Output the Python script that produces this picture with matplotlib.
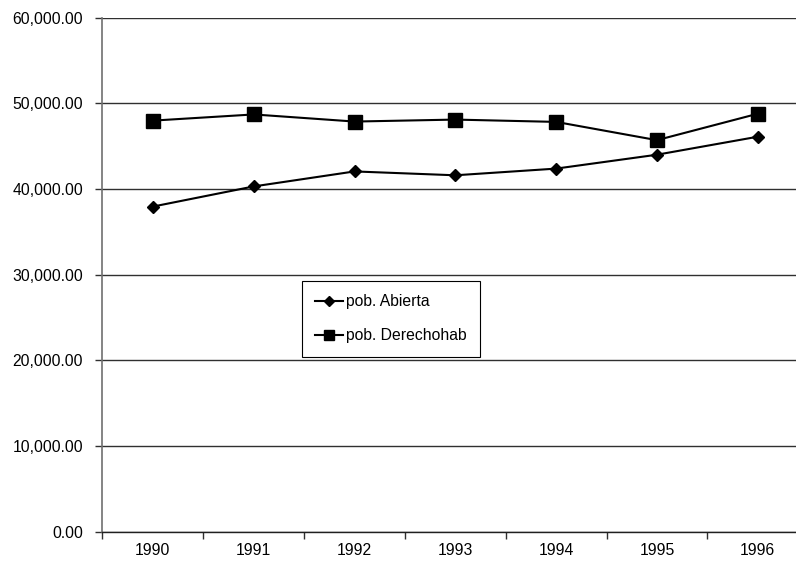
import matplotlib
matplotlib.use("Agg")
import matplotlib.pyplot as plt
from matplotlib.ticker import FuncFormatter, FixedLocator

plt.rcParams['font.family'] = ['Liberation Sans', 'DejaVu Sans']

years = ['1990', '1991', '1992', '1993', '1994', '1995', '1996']
pob_abierta = [37950, 40300, 42050, 41600, 42380, 44000, 46100]
pob_derechohab = [47980, 48700, 47870, 48100, 47830, 45700, 48780]

fig = plt.figure(figsize=(7.96, 5.66), dpi=100)
# plot area runs a little past the right edge, like the cropped original
ax = fig.add_axes([102.5 / 796, 1 - 531.8 / 566, 705.6 / 796, 514.2 / 566])

x = [i + 0.5 for i in range(len(years))]
ax.plot(x, pob_abierta, color='black', lw=1.5, marker='D', ms=6.3,
        label='pob. Abierta')
ax.plot(x, pob_derechohab, color='black', lw=1.5, marker='s', ms=9.5,
        label='pob. Derechohab')

ax.set_xlim(0, len(years))
ax.set_ylim(0, 60000)
ax.set_yticks(range(0, 60001, 10000))
ax.yaxis.set_major_formatter(FuncFormatter(lambda v, p: f'{v:,.2f}'))
ax.grid(axis='y', color='#303030', lw=1.0)
ax.set_axisbelow(True)

ax.xaxis.set_major_locator(FixedLocator(range(len(years) + 1)))
ax.xaxis.set_minor_locator(FixedLocator(x))
ax.set_xticklabels([])
ax.set_xticklabels(years, minor=True)
ax.tick_params(axis='x', which='major', direction='out', length=5,
               width=1, color='#303030')
ax.tick_params(axis='x', which='minor', length=0, pad=8, labelsize=11.3)
ax.tick_params(axis='y', direction='out', length=5, width=1,
               color='#303030', pad=9, labelsize=11.3)

for s in ['top', 'right']:
    ax.spines[s].set_visible(False)
ax.spines['left'].set_color('#707070')
ax.spines['left'].set_linewidth(1.2)
ax.spines['bottom'].set_color('#202020')
ax.spines['bottom'].set_linewidth(1.0)

leg = ax.legend(loc='upper left', bbox_to_anchor=(301.7 / 796, 1 - 281 / 566),
                bbox_transform=fig.transFigure, borderaxespad=0,
                fancybox=False, frameon=True, edgecolor='black',
                fontsize=11.3, markerscale=0.75, handlelength=1.8,
                handletextpad=0.2, labelspacing=1.2, borderpad=0.85,
                framealpha=1)
leg.get_frame().set_linewidth(0.8)

plt.savefig('out.png', dpi=100)
